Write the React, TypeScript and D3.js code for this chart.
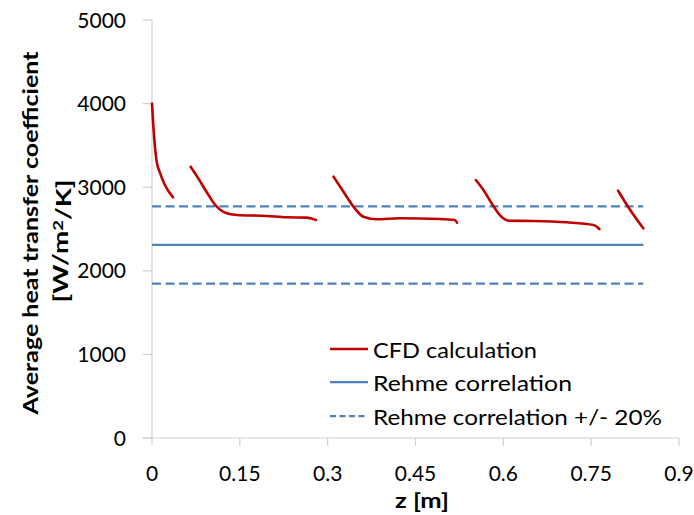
import React from "react";
import * as d3 from "d3";

// CFD calculation (z in m, h in W/m2/K)
const cfdZ1 = [0.0, 0.002, 0.005, 0.008, 0.014, 0.022, 0.036];
const cfdH1 = [4000, 3760, 3485, 3305, 3166, 3026, 2879];
const cfdZ2 = [0.066, 0.079, 0.093, 0.108, 0.125, 0.145, 0.196, 0.23, 0.264, 0.28];
const cfdH2 = [3245, 3106, 2946, 2787, 2695, 2667, 2656, 2640, 2636, 2608];
const cfdZ3 = [0.31, 0.327, 0.344, 0.361, 0.384, 0.423, 0.492, 0.517, 0.521];
const cfdH3 = [3126, 2946, 2767, 2647, 2616, 2628, 2620, 2608, 2576];
const cfdZ4 = [0.553, 0.566, 0.58, 0.594, 0.611, 0.651, 0.708, 0.754, 0.764];
const cfdH4 = [3086, 2967, 2807, 2667, 2599, 2596, 2580, 2548, 2500];
const cfdZ5 = [0.796, 0.813, 0.839];
const cfdH5 = [2958, 2767, 2508];

const rehmeValue = 2310;
const rehmeBand = [0.8, 1.2];
const rehmeZ = [0, 0.839];

const xTicks = [0, 0.15, 0.3, 0.45, 0.6, 0.75, 0.9];
const xTickLabels = ["0", "0.15", "0.3", "0.45", "0.6", "0.75", "0.9"];
const yTicks = [0, 1000, 2000, 3000, 4000, 5000];

const legendLabels = ["CFD calculation", "Rehme correlation", "Rehme correlation +/- 20%"];
// widths of the legend texts in the picture (Calibri, a bit wider than Lato)
const legendWidths = [164, 199, 289];

const RED = "#c00000";
const BLUE = "#4f81bd";
const AXIS = "#d0d0d0";
const FONT = "Lato, 'Open Sans', sans-serif";

export default function App() {
  const width = 694;
  const height = 515;

  const x = d3.scaleLinear().domain([0, 0.9]).range([152, 679]);
  const y = d3.scaleLinear().domain([0, 5000]).range([438, 20]);

  const line = d3
    .line<[number, number]>()
    .x((d) => x(d[0]))
    .y((d) => y(d[1]))
    .curve(d3.curveMonotoneX);

  const segments = [
    [cfdZ1, cfdH1],
    [cfdZ2, cfdH2],
    [cfdZ3, cfdH3],
    [cfdZ4, cfdH4],
    [cfdZ5, cfdH5],
  ].map(([zs, hs]) => zs.map((z, i) => [z, hs[i]] as [number, number]));

  const flat = (v: number) => rehmeZ.map((z) => [z, v] as [number, number]);

  const legendX = 330;
  const legendY = [349, 382, 416];

  return (
    <svg
      width={width}
      height={height}
      style={{ position: "absolute", left: 0, top: 0, background: "#fff" }}
      fontFamily={FONT}
    >
      {/* axes */}
      <line x1={x(0)} x2={x(0)} y1={y(5000)} y2={y(0)} stroke={AXIS} strokeWidth={1.2} />
      <line x1={x(0) - 9} x2={x(0.9)} y1={y(0)} y2={y(0)} stroke={AXIS} strokeWidth={1.2} />
      {yTicks.map((t) => (
        <g key={t}>
          <line x1={x(0) - 9} x2={x(0)} y1={y(t)} y2={y(t)} stroke={AXIS} strokeWidth={1.2} />
          <text x={126} y={y(t) + 7.5} textAnchor="end" fontSize={21} fill="#000">
            {t}
          </text>
        </g>
      ))}
      {xTicks.map((t, i) => (
        <g key={t}>
          <line x1={x(t)} x2={x(t)} y1={y(0)} y2={y(0) + 8} stroke={AXIS} strokeWidth={1.2} />
          <text x={x(t)} y={481} textAnchor="middle" fontSize={21} fill="#000">
            {xTickLabels[i]}
          </text>
        </g>
      ))}

      {/* axis titles */}
      <text
        x={422}
        y={508}
        textAnchor="middle"
        fontSize={21}
        fontWeight="bold"
        textLength={54}
        lengthAdjust="spacingAndGlyphs"
      >
        z [m]
      </text>
      <g transform="translate(31,233) rotate(-90)">
        <text
          x={-181.5}
          dy="0.35em"
          fontSize={21}
          fontWeight="bold"
          textLength={363}
          lengthAdjust="spacingAndGlyphs"
        >
          Average heat transfer coefficient
        </text>
      </g>
      <g transform="translate(61,241) rotate(-90)">
        <text x={-61.5} dy="0.35em" fontSize={21} fontWeight="bold" textLength={123} lengthAdjust="spacingAndGlyphs">
          [W/m<tspan dy="-0.4em" fontSize={14}>2</tspan>
          <tspan dy="0.4em">/K]</tspan>
        </text>
      </g>

      {/* Rehme correlation */}
      <path d={line(flat(rehmeValue)) || ""} fill="none" stroke={BLUE} strokeWidth={2.25} />
      {rehmeBand.map((f) => (
        <path
          key={f}
          d={line(flat(rehmeValue * f)) || ""}
          fill="none"
          stroke={BLUE}
          strokeWidth={2.25}
          strokeDasharray="9,4.5"
        />
      ))}

      {/* CFD calculation */}
      {segments.map((s, i) => (
        <path
          key={i}
          d={line(s) || ""}
          fill="none"
          stroke={RED}
          strokeWidth={2.6}
          strokeLinecap="round"
          strokeLinejoin="round"
        />
      ))}

      {/* legend */}
      {legendLabels.map((lab, i) => (
        <g key={lab}>
          <line
            x1={legendX}
            x2={legendX + 38}
            y1={legendY[i]}
            y2={legendY[i]}
            stroke={i === 0 ? RED : BLUE}
            strokeWidth={i === 0 ? 2.5 : 2.25}
            strokeDasharray={i === 2 ? "6,3.5" : undefined}
          />
          <text
            x={legendX + 43}
            y={legendY[i] + 8.5}
            fontSize={21}
            fill="#000"
            textLength={legendWidths[i]}
            lengthAdjust="spacingAndGlyphs"
          >
            {lab}
          </text>
        </g>
      ))}
    </svg>
  );
}
